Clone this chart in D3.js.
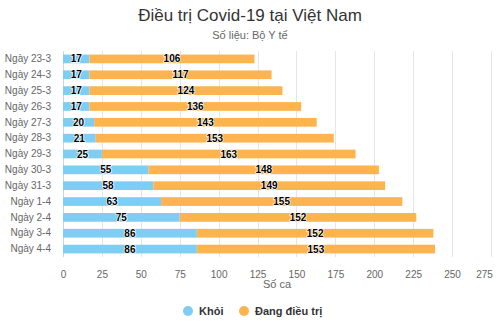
<!DOCTYPE html>
<html><head><meta charset="utf-8">
<script src="https://cdn.jsdelivr.net/npm/d3@7"></script>
<style>body{margin:0;background:#fff}svg{font-family:"Liberation Sans",Arial,sans-serif}</style>
</head><body><svg id="c" width="500" height="333"></svg>
<script>
const categories=["Ngày 23-3","Ngày 24-3","Ngày 25-3","Ngày 26-3","Ngày 27-3","Ngày 28-3","Ngày 29-3","Ngày 30-3","Ngày 31-3","Ngày 1-4","Ngày 2-4","Ngày 3-4","Ngày 4-4"];
const khoi=[17,17,17,17,20,21,25,55,58,63,75,86,86];
const dangDieuTri=[106,117,124,136,143,153,163,148,149,155,152,152,153];
const xTicks=[0,25,50,75,100,125,150,175,200,225,250,275];
const seriesNames=["Khỏi","Đang điều trị"];
const colors=["#7ecef4","#fdb44f"];

(function(){
const svg=d3.select("#c");
const pL=63,pR=491,pT=51,pB=257;
const x=d3.scaleLinear().domain([0,275]).range([pL,pR]);
const y=d3.scaleBand().domain(categories).range([pT,pB]).paddingInner(0.45).paddingOuter(0.225);

svg.append("text").attr("x",250).attr("y",21).attr("text-anchor","middle").attr("font-size",17).attr("fill","#333").text("Điều trị Covid-19 tại Việt Nam");
svg.append("text").attr("x",250).attr("y",39).attr("text-anchor","middle").attr("font-size",11).attr("fill","#666").text("Số liệu: Bộ Y tế");

svg.append("g").selectAll("line").data(xTicks.slice(1)).join("line")
 .attr("x1",d=>Math.round(x(d))+0.5).attr("x2",d=>Math.round(x(d))+0.5).attr("y1",pT).attr("y2",pB)
 .attr("stroke","#e6e6e6");
svg.append("line").attr("x1",pL+0.5).attr("x2",pL+0.5).attr("y1",pT).attr("y2",pB).attr("stroke","#ccd6eb");

const xa=svg.append("g").attr("transform",`translate(0,${pB})`).call(d3.axisBottom(x).tickValues(xTicks).tickSize(0).tickPadding(14));
xa.select(".domain").remove();
xa.selectAll("text").attr("font-size",10).attr("fill","#666").attr("font-family","Liberation Sans,Arial,sans-serif")
 .attr("dx",d=>d===275?-7:0);
svg.append("text").attr("x",(pL+pR)/2).attr("y",288).attr("text-anchor","middle").attr("font-size",11).attr("fill","#666").text("Số ca");

const ya=svg.append("g").attr("transform",`translate(${pL},0)`).call(d3.axisLeft(y).tickSize(0).tickPadding(12));
ya.select(".domain").remove();
ya.selectAll("text").attr("font-size",10).attr("fill","#666").attr("font-family","Liberation Sans,Arial,sans-serif");

const rows=categories.map((c,i)=>({c,a:khoi[i],b:dangDieuTri[i]}));
const g=svg.append("g");
g.selectAll("rect.a").data(rows).join("rect").attr("class","a").attr("x",x(0)).attr("y",d=>y(d.c)).attr("width",d=>x(d.a)-x(0)).attr("height",y.bandwidth()).attr("fill",colors[0]);
g.selectAll("rect.b").data(rows).join("rect").attr("class","b").attr("x",d=>x(d.a)).attr("y",d=>y(d.c)).attr("width",d=>x(d.a+d.b)-x(d.a)).attr("height",y.bandwidth()).attr("fill",colors[1]);

const lab=svg.append("g").attr("font-size",10).attr("font-weight","bold").attr("text-anchor","middle").attr("fill","#000")
 .attr("stroke","#fff").attr("stroke-width",1.5).attr("paint-order","stroke").attr("stroke-linejoin","round");
lab.selectAll("text.a").data(rows).join("text").attr("class","a").attr("x",d=>(x(0)+x(d.a))/2).attr("y",d=>y(d.c)+y.bandwidth()/2).attr("dy","0.35em").text(d=>d.a);
lab.selectAll("text.b").data(rows).join("text").attr("class","b").attr("x",d=>(x(d.a)+x(d.a+d.b))/2).attr("y",d=>y(d.c)+y.bandwidth()/2).attr("dy","0.35em").text(d=>d.b);

const legX=[188,244];
const lg=svg.append("g");
seriesNames.forEach((n,i)=>{
  lg.append("circle").attr("cx",legX[i]).attr("cy",311).attr("r",5).attr("fill",colors[i]);
  lg.append("text").attr("x",legX[i]+11).attr("y",315).attr("font-size",11).attr("font-weight","bold").attr("fill","#333").text(n);
});
})();
</script></body></html>
